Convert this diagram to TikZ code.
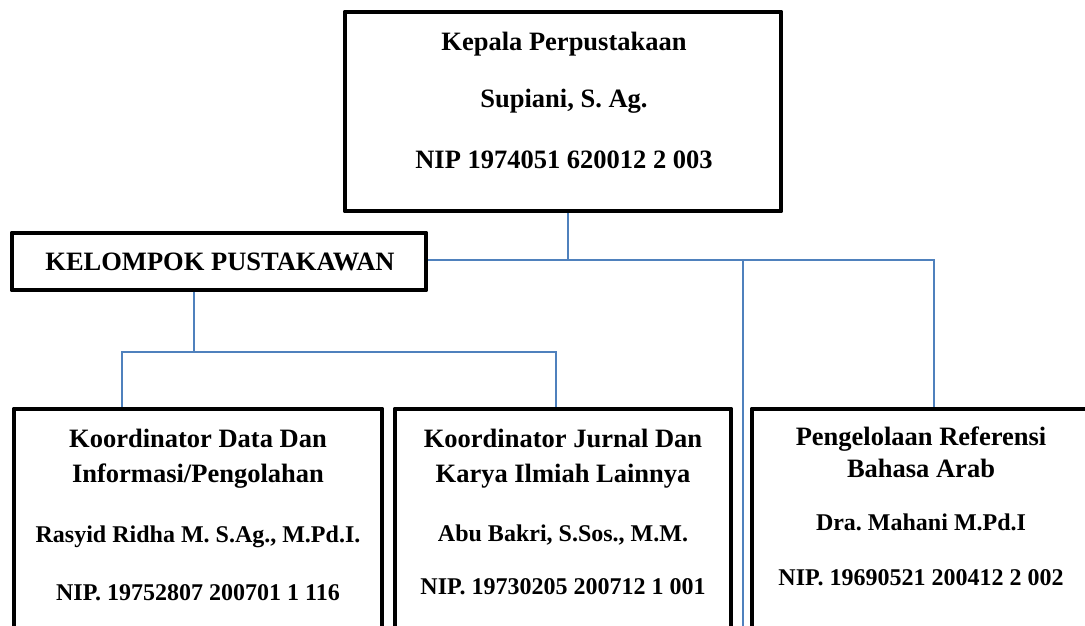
\documentclass[tikz,border=0pt]{standalone}
\usepackage{fontspec}
\setmainfont{Liberation Serif}
\frenchspacing
\definecolor{connblue}{RGB}{79,129,189}
\begin{document}
\begin{tikzpicture}[x=1pt,y=-1pt,
  box/.style={draw=black,line width=4.5pt,line join=round,fill=white,rectangle,inner sep=0pt},
  conn/.style={draw=connblue,line width=1.8pt},
  big/.style={anchor=base,inner sep=0pt,font=\fontsize{26.5}{30}\selectfont\bfseries\frenchspacing},
  small/.style={anchor=base,inner sep=0pt,font=\fontsize{24}{28}\selectfont\bfseries\frenchspacing}]
\useasboundingbox (0,0) rectangle (1085,625);
\clip (0,0) rectangle (1085,625);
% junction coordinates
\coordinate (j1) at (568,260);
\coordinate (j2) at (743,260);
\coordinate (j2b) at (743,640);
\coordinate (j3) at (934,260);
\coordinate (k1) at (194,352);
\coordinate (k2) at (122,352);
\coordinate (k3) at (556,352);
% boxes (positions only, drawn after connectors)
\path (563,111.5) node[minimum width=436pt,minimum height=199pt] (top) {};
\path (219,261.5) node[minimum width=414pt,minimum height=57pt] (kel) {};
\path (198,524.5) node[minimum width=368pt,minimum height=231pt] (b1) {};
\path (563,524.5) node[minimum width=336pt,minimum height=231pt] (b2) {};
\path (921,524.5) node[minimum width=338pt,minimum height=231pt] (b3) {};
% connectors
\draw[conn] (top.south -| j1) -- (j1);
\draw[conn] (kel.east |- j1) -- (j3) -- (b3.north -| j3);
\draw[conn] (j2) -- (j2b);
\draw[conn] (kel.south -| k1) -- (k1);
\draw[conn] (b1.north -| k2) -- (k2) -- (k3) -- (b2.north -| k3);
% draw boxes
\draw[box] (top.north west) rectangle (top.south east);
\draw[box] (kel.north west) rectangle (kel.south east);
\draw[box] (b1.north west) rectangle (b1.south east);
\draw[box] (b2.north west) rectangle (b2.south east);
\draw[box] (b3.north west) rectangle (b3.south east);
% texts
\node[big] (t1) at (564,50) {Kepala Perpustakaan};
\node[big] (t2) at (564,107) {Supiani, S. Ag.};
\node[big] (t3) at (564,168) {NIP 1974051 620012 2 003};
\node[big] (kt) at (220,270) {KELOMPOK PUSTAKAWAN};
\node[big] (a1) at (198,447) {Koordinator Data Dan};
\node[big] (a2) at (198,482) {Informasi/Pengolahan};
\node[small] (a3) at (198,542) {Rasyid Ridha M. S.Ag., M.Pd.I.};
\node[small] (a4) at (198,600) {NIP. 19752807 200701 1 116};
\node[big] (c1) at (563,447) {Koordinator Jurnal Dan};
\node[big] (c2) at (563,482) {Karya Ilmiah Lainnya};
\node[small] (c3) at (563,541) {Abu Bakri, S.Sos., M.M.};
\node[small] (c4) at (563,594) {NIP. 19730205 200712 1 001};
\node[big] (d1) at (921,445) {Pengelolaan Referensi};
\node[big] (d2) at (921,477) {Bahasa Arab};
\node[small] (d3) at (921,530) {Dra. Mahani M.Pd.I};
\node[small] (d4) at (921,585) {NIP. 19690521 200412 2 002};
\end{tikzpicture}
\end{document}
